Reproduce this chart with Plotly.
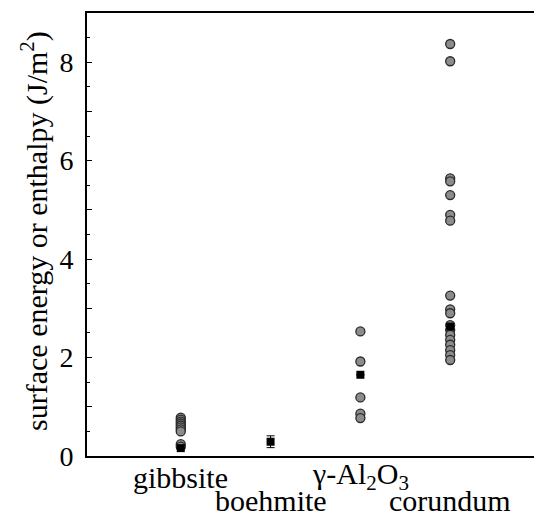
import plotly.graph_objects as go

categories = ["gibbsite", "boehmite", "γ-Al<sub>2</sub>O<sub>3</sub>", "corundum"]
cat_pos = [1, 2, 3, 4]

# gray circle data
circ_gibbsite = [0.78, 0.74, 0.70, 0.66, 0.62, 0.58, 0.54, 0.50, 0.24, 0.19]
circ_gamma = [2.53, 1.92, 1.19, 0.86, 0.77]
circ_corundum = [8.37, 8.02, 5.64, 5.58, 5.30, 4.90, 4.78, 3.26, 2.98, 2.90,
                 2.66, 2.56, 2.46, 2.36, 2.26, 2.15, 2.05, 1.95]

# black square data
sq_x = [1, 2, 3, 4]
sq_y = [0.16, 0.29, 1.65, 2.63]
sq_err = [0.0, 0.12, 0.0, 0.0]

yticks = [0, 1, 2, 3, 4, 5, 6, 7, 8, 9]
ytick_text = ["0", "", "2", "", "4", "", "6", "", "8", ""]

FONT = "Liberation Serif"

cx = [1] * len(circ_gibbsite) + [3] * len(circ_gamma) + [4] * len(circ_corundum)
cy = circ_gibbsite + circ_gamma + circ_corundum

fig = go.Figure()
fig.add_trace(go.Scatter(
    x=cx, y=cy, mode="markers",
    marker=dict(symbol="circle", size=9, color="#8c8c8c",
                line=dict(color="#2a2a2a", width=1.3)),
    showlegend=False))
fig.add_trace(go.Scatter(
    x=sq_x, y=sq_y, mode="markers",
    marker=dict(symbol="square", size=8, color="#000000"),
    error_y=dict(type="data", array=sq_err, visible=True, color="#000000",
                 thickness=1, width=4),
    showlegend=False))
# invisible trace for right-side axis ticks
fig.add_trace(go.Scatter(x=[None], y=[None], yaxis="y2", showlegend=False))

# page body has an 8px default margin, so the figure is 8px smaller
fig.update_layout(
    width=534, height=511,
    margin=dict(l=79, r=2, t=5, b=63, autoexpand=False),
    paper_bgcolor="white", plot_bgcolor="white",
    font=dict(family=FONT, size=28, color="black"),
    xaxis=dict(range=[-0.044, 5.0], showgrid=False, zeroline=False,
               showline=True, linecolor="black", linewidth=2, mirror=True,
               showticklabels=False, ticks="", automargin=False),
    yaxis=dict(range=[0, 9], showgrid=False, zeroline=False,
               showline=True, linecolor="black", linewidth=2,
               tickmode="array", tickvals=yticks, ticktext=ytick_text,
               ticks="inside", ticklen=5, tickwidth=1, tickcolor="black",
               minor=dict(ticks="inside", ticklen=3, dtick=0.5, tick0=0,
                          tickcolor="black", tickwidth=1, showgrid=False),
               tickfont=dict(family=FONT, size=28), ticklabelstandoff=6,
               automargin=False),
    yaxis2=dict(range=[0, 9], overlaying="y", side="right", showgrid=False,
                zeroline=False, showline=False, showticklabels=False,
                tickmode="array", tickvals=yticks, automargin=False,
                ticks="inside", ticklen=5, tickwidth=1, tickcolor="black",
                minor=dict(ticks="inside", ticklen=3, dtick=0.5, tick0=0,
                           tickcolor="black", tickwidth=1, showgrid=False)),
)

shifts = [-21, -44, -20, -44]
for pos, lab, s in zip(cat_pos, categories, shifts):
    fig.add_annotation(x=pos, xref="x", y=0, yref="paper", text=lab,
                       showarrow=False, xanchor="center", yanchor="middle",
                       yshift=s, font=dict(family=FONT, size=30))

fig.add_annotation(x=0, xref="paper", y=0.508, yref="paper",
                   text="surface energy or enthalpy (J/m<sup>2</sup>)",
                   textangle=-90, showarrow=False, xanchor="center",
                   yanchor="middle", xshift=-52,
                   font=dict(family=FONT, size=30))

fig.write_html("out.html")
